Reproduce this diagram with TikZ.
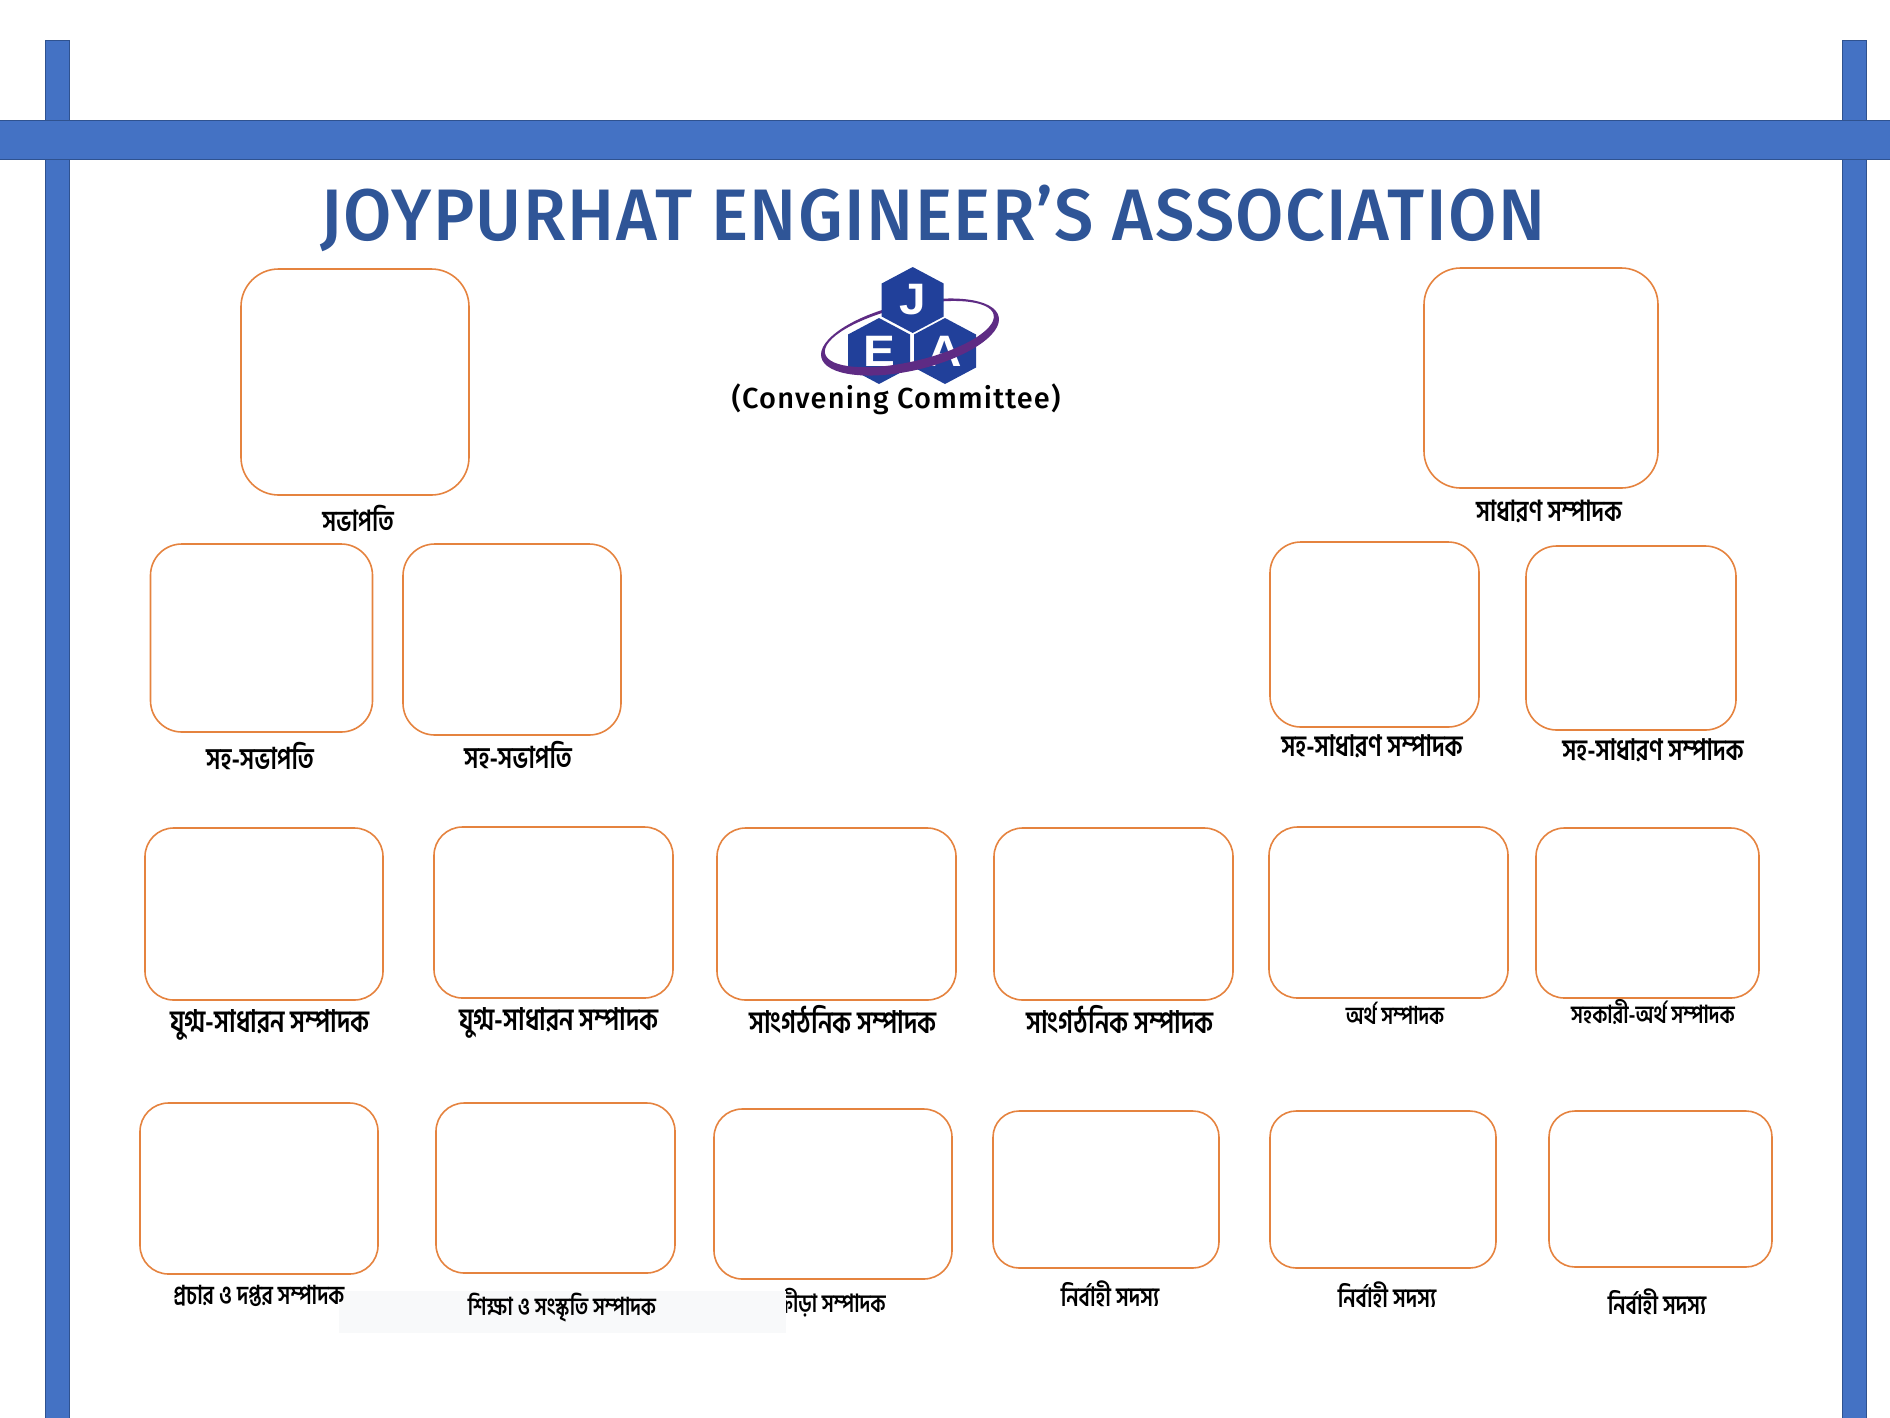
\documentclass[tikz,border=0pt]{standalone}
\usepackage{fontspec}
\usepackage{tikz}
\usetikzlibrary{shapes.geometric}
\setmainfont{Fira Sans}
\newfontfamily\titlefont[LetterSpace=2.0,FakeStretch=0.96]{Fira Sans Medium}
\newfontfamily\subfont[LetterSpace=4.0]{Fira Sans Medium}
\newfontfamily\hexfont{Liberation Sans}
\newfontfamily\bnfont[Script=Bengali,FakeStretch=0.8]{Hind Siliguri}
\definecolor{barblue}{HTML}{4472C4}
\definecolor{baredge}{HTML}{2F528F}
\definecolor{titleblue}{HTML}{2F5597}
\definecolor{boxorange}{HTML}{E5833F}
\definecolor{hexblue}{HTML}{21409A}
\definecolor{ringpurple}{HTML}{5E2B84}
\definecolor{patchgray}{HTML}{F8F9FA}

\begin{document}
\begin{tikzpicture}[x=1pt,y=-1pt]
        % Setup the styles
        \tikzset{bar style/.style={draw=baredge,line width=1pt,fill=barblue},
                 photo/.style 2 args={draw=boxorange,
                                    line width=1.6pt,
                                    minimum width=#1pt,
                                    minimum height=#2pt,
                                    rounded corners=0.1667*#2pt},
                 role/.style={font=\bnfont\fontsize{#1}{#1}\selectfont\bfseries,text=black,inner sep=0pt},
                 hexa/.style={regular polygon,regular polygon sides=6,regular polygon rotate=30,
                              transform shape,xscale=1.085,
                              minimum size=66pt,inner sep=0pt,fill=hexblue,text=white,
                              font=\hexfont\fontsize{44}{44}\selectfont\bfseries}}
        \useasboundingbox (0,0) rectangle (1890,1417);

        % Frame bars
        \draw[bar style] (45,40) rectangle (69.5,1420);
        \draw[bar style] (1842,40) rectangle (1866,1420);
        \draw[bar style] (-2,120) rectangle (1892,159);

        % Heading
        \node[text=titleblue,font=\titlefont\fontsize{73}{73}\selectfont,inner sep=0pt] at (933,218) (heading) {JOYPURHAT ENGINEER’S ASSOCIATION};

        % Logo
        \node[hexa] at (879,351) (hexE) {E};
        \node[hexa] at (945,351) (hexA) {A};
        \fill[ringpurple,even odd rule,shift={(910,337)},rotate=13]
            (0,0) ellipse [x radius=91pt,y radius=33.5pt]
            (0,-3) ellipse [x radius=86.5pt,y radius=27.5pt];
        \node[hexa] at (912.7,300) (hexJ) {J};
        \node[font=\subfont\fontsize{29}{29}\selectfont,text=black,inner sep=0pt] at (896,399) (convening) {(Convening Committee)};

        % Draw the photo boxes
        \node[photo={228}{226}] at (355,382)     (president) {};
        \node[photo={234}{220}] at (1541,378)    (secretary) {};
        \node[photo={222}{188}] at (261.5,638)   (vicea) {};
        \node[photo={218}{191}] at (512,639.5)   (viceb) {};
        \node[photo={209}{185}] at (1374.5,634.5) (assta) {};
        \node[photo={210}{184}] at (1631,638)    (asstb) {};
        \node[photo={238}{172}] at (264,914)     (jointa) {};
        \node[photo={239}{171}] at (553.5,912.5) (jointb) {};
        \node[photo={239}{172}] at (836.5,914)   (orga) {};
        \node[photo={239}{172}] at (1113.5,914)  (orgb) {};
        \node[photo={239}{171}] at (1388.5,912.5) (finance) {};
        \node[photo={223}{170}] at (1647.5,913)  (finasst) {};
        \node[photo={238}{171}] at (259,1188.5)  (publicity) {};
        \node[photo={239}{170}] at (555.5,1188)  (education) {};
        \node[photo={238}{170}] at (833,1194)    (sports) {};
        \node[photo={226}{157}] at (1106,1189.5) (execa) {};
        \node[photo={226}{157}] at (1383,1189.5) (execb) {};
        \node[photo={223}{156}] at (1660.5,1189) (execc) {};

        % Labels under the boxes
        \node[role=29] at (358,518.5)   (lpresident) {সভাপতি};
        \node[role=29] at (1549,511)  (lsecretary) {সাধারণ সম্পাদক};
        \node[role=30] at (260,756)   (lvicea) {সহ-সভাপতি};
        \node[role=30] at (518,755)   (lviceb) {সহ-সভাপতি};
        \node[role=29.5] at (1372,746)  (lassta) {সহ-সাধারণ সম্পাদক};
        \node[role=29.5] at (1653,750)  (lasstb) {সহ-সাধারণ সম্পাদক};
        \node[role=31] at (270,1025)  (ljointa) {যুগ্ম-সাধারন সম্পাদক};
        \node[role=31] at (559,1023)  (ljointb) {যুগ্ম-সাধারন সম্পাদক};
        \node[role=31] at (843,1019)  (lorga) {সাংগঠনিক সম্পাদক};
        \node[role=31] at (1120,1019) (lorgb) {সাংগঠনিক সম্পাদক};
        \node[role=24.6] at (1395,1013) (lfinance) {অর্থ সম্পাদক};
        \node[role=24.8] at (1653,1012) (lfinasst) {সহকারী-অর্থ সম্পাদক};
        \node[role=25,anchor=east] at (886,1303) (lsports) {ক্রীড়া সম্পাদক};
        \fill[patchgray] (339,1291) rectangle (786,1333);
        \node[role=26] at (259,1296)  (lpublicity) {প্রচার ও দপ্তর সম্পাদক};
        \node[role=24.7] at (562,1308)  (leducation) {শিক্ষা ও সংস্কৃতি সম্পাদক};
        \node[role=26.5] at (1110,1294) (lexeca) {নির্বাহী সদস্য};
        \node[role=26.5] at (1387,1295) (lexecb) {নির্বাহী সদস্য};
        \node[role=26.5] at (1657,1302) (lexecc) {নির্বাহী সদস্য};
\end{tikzpicture}
\end{document}
